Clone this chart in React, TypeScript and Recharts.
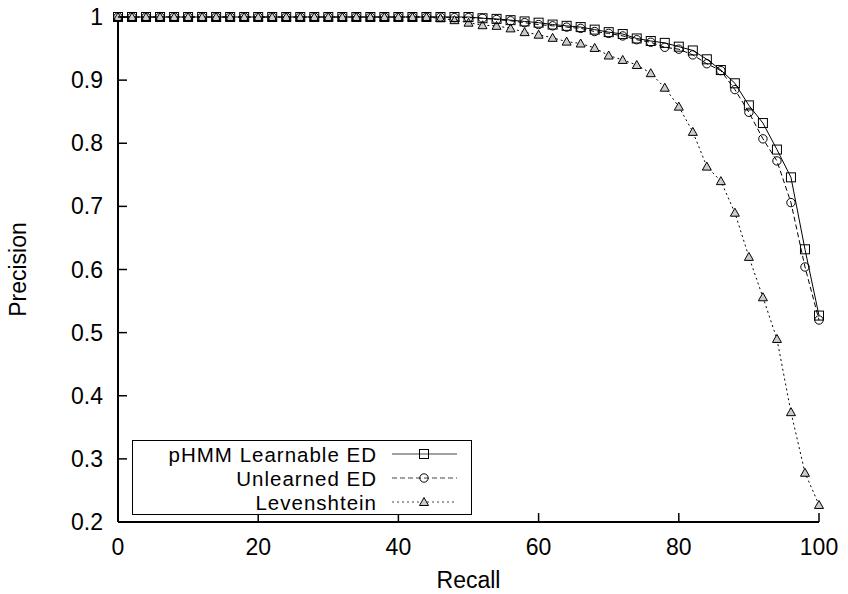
import { LineChart, Line, XAxis, YAxis } from "recharts";

const recall = [
  0, 2, 4, 6, 8, 10, 12, 14, 16, 18, 20, 22, 24, 26, 28, 30, 32, 34, 36, 38, 40, 42, 44, 46, 48, 50,
  52, 54, 56, 58, 60, 62, 64, 66, 68, 70, 72, 74, 76, 78, 80, 82, 84, 86, 88, 90, 92, 94, 96, 98, 100,
];

const phmm = [
  1, 1, 1, 1, 1, 1, 1, 1, 1, 1, 1, 1, 1, 1, 1, 1, 1, 1, 1, 1, 1, 1, 1, 1, 1, 1,
  0.998, 0.997, 0.995, 0.993, 0.991, 0.988, 0.986, 0.984, 0.98, 0.976, 0.973, 0.966, 0.962, 0.959, 0.953,
  0.947, 0.933, 0.916, 0.895, 0.86, 0.832, 0.79, 0.746, 0.632, 0.527,
];

const unlearned = [
  1, 1, 1, 1, 1, 1, 1, 1, 1, 1, 1, 1, 1, 1, 1, 1, 1, 1, 1, 1, 1, 1, 1, 1, 0.999, 0.999,
  0.998, 0.996, 0.994, 0.991, 0.988, 0.986, 0.984, 0.982, 0.977, 0.974, 0.97, 0.964, 0.96, 0.952, 0.949,
  0.94, 0.926, 0.915, 0.885, 0.849, 0.807, 0.772, 0.706, 0.604, 0.52,
];

const levenshtein = [
  1, 1, 1, 1, 1, 1, 1, 1, 1, 1, 1, 1, 1, 1, 1, 1, 1, 1, 1, 1, 1, 1, 1, 0.998, 0.995, 0.991,
  0.987, 0.986, 0.982, 0.976, 0.972, 0.967, 0.961, 0.958, 0.951, 0.939, 0.932, 0.924, 0.911, 0.888, 0.858,
  0.818, 0.763, 0.74, 0.69, 0.62, 0.556, 0.49, 0.374, 0.278, 0.227,
];

const xTicks = [0, 20, 40, 60, 80, 100];
const yTicks = [0.2, 0.3, 0.4, 0.5, 0.6, 0.7, 0.8, 0.9, 1];

const data = recall.map((r, i) => ({
  recall: r,
  phmm: phmm[i],
  unlearned: unlearned[i],
  levenshtein: levenshtein[i],
}));

const FONT = "'Liberation Sans', Arial, sans-serif";
const FS = 23;
const TICK = 9;
const frame = { stroke: "#000", strokeWidth: 2 };

const Square = (p: any) => (
  <rect x={p.cx - 4.5} y={p.cy - 4.5} width={9} height={9} fill="none" stroke="#000" strokeWidth={1} />
);
const Circle = (p: any) => <circle cx={p.cx} cy={p.cy} r={4.2} fill="none" stroke="#000" strokeWidth={1} />;
const Triangle = (p: any) => (
  <path
    d={`M${p.cx},${p.cy - 4.5} L${p.cx + 4.5},${p.cy + 3.5} L${p.cx - 4.5},${p.cy + 3.5} Z`}
    fill="#ccc"
    stroke="#000"
    strokeWidth={1}
  />
);

const BottomTick = (p: any) => (
  <g>
    <line x1={p.x} y1={p.y} x2={p.x} y2={p.y - TICK} stroke="#000" strokeWidth={1.5} />
    <text x={p.x} y={p.y + 33} textAnchor="middle" fontSize={FS} fontFamily={FONT} fill="#000">
      {p.payload.value}
    </text>
  </g>
);
const TopTick = (p: any) => <line x1={p.x} y1={p.y} x2={p.x} y2={p.y + TICK} stroke="#000" strokeWidth={1.5} />;
const LeftTick = (p: any) => (
  <g>
    <line x1={p.x} y1={p.y} x2={p.x + TICK} y2={p.y} stroke="#000" strokeWidth={1.5} />
    <text x={p.x - 15} y={p.y + 8} textAnchor="end" fontSize={FS} fontFamily={FONT} fill="#000">
      {Number(p.payload.value.toFixed(1)).toString()}
    </text>
  </g>
);
const RightTick = (p: any) => <line x1={p.x} y1={p.y} x2={p.x - TICK} y2={p.y} stroke="#000" strokeWidth={1.5} />;

const series = [
  { name: "pHMM Learnable ED", dash: undefined, Marker: Square },
  { name: "Unlearned ED", dash: "5 3", Marker: Circle },
  { name: "Levenshtein", dash: "2 3", Marker: Triangle },
];

// legend drawn as an overlay so it doesn't shrink the plot area
const LegendBox = () => (
  <div
    style={{
      position: "absolute",
      left: 132,
      top: 440,
      width: 340,
      height: 75,
      border: "1.5px solid #000",
      background: "#fff",
      boxSizing: "border-box",
      paddingTop: 1,
      fontFamily: FONT,
      fontSize: 20.5,
      letterSpacing: 1,
    }}
  >
    {series.map((s) => (
      <div key={s.name} style={{ display: "flex", alignItems: "center", height: 24 }}>
        <div style={{ width: 244, textAlign: "right", lineHeight: "23px", whiteSpace: "nowrap" }}>{s.name}</div>
        <svg width={66} height={20} style={{ marginLeft: 15 }}>
          <line x1={0} y1={10} x2={65} y2={10} stroke="#444" strokeDasharray={s.dash} />
          <s.Marker cx={32} cy={10} />
        </svg>
      </div>
    ))}
  </div>
);

export default function App() {
  return (
    <div style={{ position: "absolute", left: 0, top: 0, width: 848, height: 594, background: "#fff" }}>
      <LineChart width={848} height={594} data={data} margin={{ top: 17, right: 29, left: 0, bottom: 0 }}>
        <XAxis
          xAxisId="x"
          dataKey="recall"
          type="number"
          domain={[0, 100]}
          ticks={xTicks}
          height={72}
          tickLine={false}
          tickSize={0}
          tickMargin={0}
          axisLine={frame}
          tick={<BottomTick />}
          label={(p: any) => (
            <text
              x={p.viewBox.x + p.viewBox.width / 2}
              y={p.viewBox.y + 66}
              textAnchor="middle"
              fontSize={FS}
              fontFamily={FONT}
              fill="#000"
            >
              Recall
            </text>
          )}
        />
        <XAxis
          xAxisId="xt"
          orientation="top"
          dataKey="recall"
          type="number"
          domain={[0, 100]}
          ticks={xTicks}
          height={0}
          tickLine={false}
          tickSize={0}
          tickMargin={0}
          axisLine={frame}
          tick={<TopTick />}
        />
        <YAxis
          yAxisId="y"
          type="number"
          domain={[0.2, 1]}
          ticks={yTicks}
          width={118}
          tickLine={false}
          tickSize={0}
          tickMargin={0}
          axisLine={frame}
          tick={<LeftTick />}
          label={(p: any) => (
            <text
              x={18}
              y={p.viewBox.y + p.viewBox.height / 2}
              transform={`rotate(-90, 18, ${p.viewBox.y + p.viewBox.height / 2})`}
              textAnchor="middle"
              dominantBaseline="central"
              fontSize={FS}
              fontFamily={FONT}
              fill="#000"
            >
              Precision
            </text>
          )}
        />
        <YAxis
          yAxisId="yr"
          orientation="right"
          type="number"
          domain={[0.2, 1]}
          ticks={yTicks}
          width={0}
          tickLine={false}
          tickSize={0}
          tickMargin={0}
          axisLine={frame}
          tick={<RightTick />}
        />
        <Line
          xAxisId="x"
          yAxisId="y"
          dataKey="levenshtein"
          stroke="#000"
          strokeWidth={1}
          strokeDasharray="2 3"
          dot={<Triangle />}
          isAnimationActive={false}
        />
        <Line
          xAxisId="x"
          yAxisId="y"
          dataKey="unlearned"
          stroke="#000"
          strokeWidth={1}
          strokeDasharray="5 3"
          dot={<Circle />}
          isAnimationActive={false}
        />
        <Line
          xAxisId="x"
          yAxisId="y"
          dataKey="phmm"
          stroke="#000"
          strokeWidth={1}
          dot={<Square />}
          isAnimationActive={false}
        />
      </LineChart>
      <LegendBox />
    </div>
  );
}
